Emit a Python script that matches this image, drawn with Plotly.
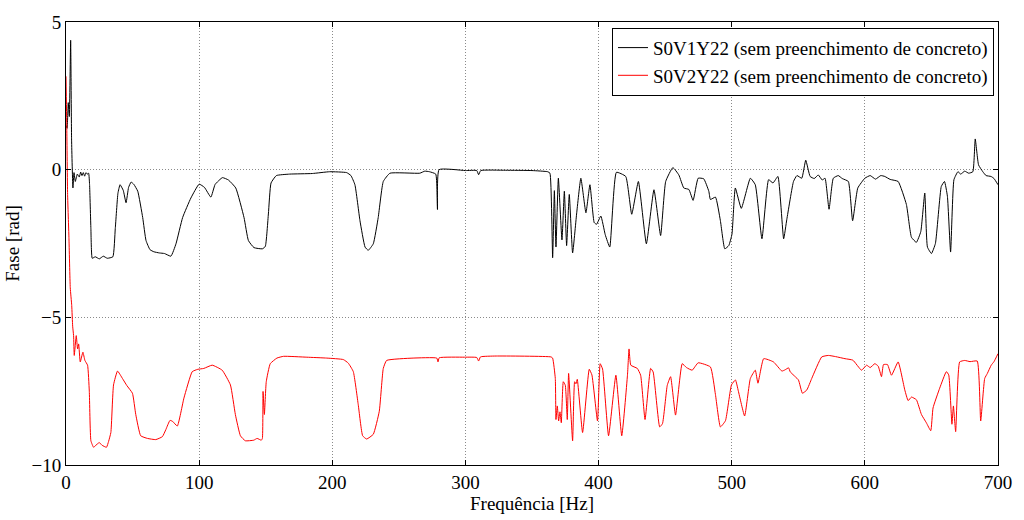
import plotly.graph_objects as go

# S0V1Y22 (black)
black_f = [0, 0.8, 1.7, 2.5, 3.5, 4.2, 5.2, 6, 7, 8.5, 10, 11, 12, 13, 14, 15, 16, 17, 17.7, 18.7, 19.7, 22, 25,
           28, 31, 35.2, 37, 39, 40.6, 43, 45.1, 47, 48.9, 51, 53.9, 57.6, 60.1, 63.1, 66, 70.1, 74, 78.8,
           82.6, 87.6, 93.8, 100, 104, 108.8, 112, 117.5, 122, 127.5, 133.7, 137, 141.2, 147.5, 149.7, 152,
           154, 158, 168, 185, 198, 210.8, 214, 217, 220.8, 224.6, 227, 230.8, 234.5, 238.3, 243.3, 265.7,
           269.5, 273, 277.7, 279, 280.2, 300, 308.5, 309.9, 311.5, 330, 350, 361.8, 363.5, 365.5, 366.8, 368,
           369.8, 372.5, 374.3, 376, 378, 380.5, 383.5, 386.7, 390.5, 393.5, 396.7, 398.5, 401.7, 405, 408.4,
           413.4, 420.4, 424.9, 429.9, 435.9, 441.6, 446.6, 450.4, 455.8, 460.3, 464, 467.8, 471, 474.8, 479,
           482.8, 484, 487.8, 491.5, 494.8, 497.8, 500.2, 502.7, 507.2, 514, 517.7, 522.7, 527.7, 531, 534.7,
           539, 541.4, 546.4, 549, 552.6, 555.6, 558.9, 562, 565, 568, 570.1, 573.1, 576.3, 580, 583, 587.6,
           590.8, 594.7, 600, 604, 608, 612, 615, 619, 625, 631.2, 635, 638.7, 642, 645, 647, 650, 653, 657.4,
           659.8, 662, 664.4, 666.9, 669.9, 672, 675, 678, 681.1, 682.9, 685.4, 688.6, 691, 694.8, 697, 700]
black_v = [1.5, 1.4, 2.27, 1.8, 4.38, 1.0, -0.62, -0.1, -0.4, -0.15, -0.25, -0.08, -0.2, -0.1, -0.22, -0.1,
           -0.15, -0.12, -0.5, -2.0, -3.0, -2.95, -3.02, -2.93, -3.0, -2.95, -2.0, -0.8, -0.51, -0.7, -1.12,
           -0.6, -0.42, -0.5, -0.73, -1.62, -2.4, -2.71, -2.78, -2.82, -2.84, -2.93, -2.51, -1.62, -0.96,
           -0.49, -0.6, -0.93, -0.5, -0.27, -0.35, -0.62, -1.62, -2.4, -2.64, -2.68, -2.6, -1.5, -0.45, -0.2,
           -0.15, -0.13, -0.07, -0.1, -0.2, -0.51, -1.73, -2.62, -2.73, -2.51, -1.62, -0.4, -0.12, -0.12,
           -0.05, -0.07, -0.15, -1.35, 0.0, -0.03, -0.03, -0.17, -0.03, -0.02, -0.03, -0.07, -0.12, -2.98,
           -0.71, -2.62, -0.29, -2.38, -0.73, -2.57, -0.84, -2.82, -1.5, -0.29, -1.46, -0.51, -1.79, -1.85,
           -1.57, -2.2, -2.62, -0.09, -0.23, -1.51, -0.4, -2.51, -0.68, -2.23, -0.4, 0.07, -0.18, -0.62, -0.67,
           -1.04, -0.29, -0.31, -0.73, -1.01, -0.93, -1.73, -2.68, -2.57, -2.18, -0.62, -1.31, -0.29, -0.51,
           -2.34, -0.34, -0.45, -0.23, -2.34, -1.68, -0.4, -0.2, -0.29, 0.32, -0.23, -0.3, -0.18, -0.35,
           -0.29, -1.34, -0.29, -0.2, -0.3, -0.4, -1.73, -0.62, -0.29, -0.2, -0.32, -0.2, -0.23, -0.33, -0.4,
           -1.18, -2.29, -2.46, -2.1, -0.79, -2.62, -2.84, -2.5, -0.57, -0.4, -0.9, -2.79, -0.34, -0.07,
           -0.15, -0.05, -0.12, -0.07, 1.04, 0.16, -0.07, -0.2, -0.23, -0.3, -0.51]

# S0V2Y22 (red)
red_f = [0, 0.6, 1.2, 2.2, 3.2, 4.3, 5, 5.7, 6.2, 7.7, 8.7, 9.5, 10.7, 12.7, 14.2, 16.2, 17.5, 18.7, 20.7, 22,
         25, 27, 30.4, 32, 33.7, 35.7, 38.7, 42.4, 45.7, 49.9, 52.4, 56.1, 61.2, 67.4, 72.4, 75, 78.1, 80, 83.6,
         88.6, 94.8, 99, 103.5, 109.8, 117.3, 123.5, 127.2, 131, 134.7, 141, 143.5, 146.7, 147.5, 148, 149,
         150.4, 153.4, 158.4, 163.4, 180.9, 195.9, 208.3, 212, 215.8, 219.5, 222.8, 225.8, 230.8, 235.3, 238.3,
         240.8, 260.7, 278.5, 279.4, 280.3, 299.4, 308.5, 309.9, 311.3, 323.1, 364.3, 365.5, 367.5, 368, 369,
         370, 371, 372, 373.5, 375, 376.5, 377.5, 380.5, 382, 383, 384, 388, 393, 395, 399.2, 401.2, 403,
         407.5, 413, 417.4, 421.7, 422.9, 424.2, 429.1, 431.6, 434.9, 439.1, 441, 445.9, 448, 451.6, 454.1,
         457.8, 462.8, 466, 470.3, 474.8, 484, 487.8, 491.5, 495.3, 499.8, 502.8, 505, 509.7, 514, 517.7,
         519.7, 524, 531.4, 537.7, 540, 542.7, 544, 550.1, 553.1, 556.4, 560.1, 567.6, 572.6, 578, 585.1,
         591, 597.5, 601.3, 604, 607.5, 610, 612.5, 614, 617, 620, 625, 630, 632.5, 635, 638.7, 642.5, 646.2,
         649.5, 651.2, 656.2, 661.2, 663, 665.4, 666.5, 668.2, 671.2, 675, 679, 684.4, 687, 690, 692, 694.9,
         697, 700]
red_v = [3.16, 1.4, -0.84, -2.29, -4.0, -4.6, -5.3, -5.62, -6.29, -5.62, -6.07, -5.9, -6.51, -6.18, -6.46,
         -6.62, -7.5, -9.18, -9.4, -9.35, -9.24, -9.33, -9.4, -9.2, -8.9, -7.29, -6.82, -7.07, -7.31, -7.57,
         -8.29, -9.01, -9.1, -9.14, -9.04, -8.8, -8.49, -8.52, -8.68, -7.73, -6.84, -6.76, -6.73, -6.62, -6.79,
         -7.29, -8.29, -9.01, -9.18, -9.16, -9.1, -9.16, -9.1, -7.51, -8.29, -7.18, -6.57, -6.38, -6.32, -6.35,
         -6.38, -6.43, -6.55, -6.84, -7.96, -9.01, -9.12, -8.96, -8.18, -6.73, -6.46, -6.38, -6.38, -6.51,
         -6.37, -6.35, -6.36, -6.48, -6.34, -6.31, -6.34, -6.38, -7.07, -8.46, -8.0, -8.51, -8.2, -8.57,
         -7.18, -7.3, -8.46, -6.9, -9.18, -7.18, -7.25, -7.1, -8.9, -6.76, -6.95, -8.51, -6.57, -6.75, -9.01,
         -6.96, -9.01, -6.96, -6.07, -6.62, -6.73, -6.96, -8.46, -6.73, -6.85, -8.71, -8.6, -7.3, -7.01,
         -8.31, -6.57, -6.7, -6.79, -6.54, -6.68, -7.62, -8.71, -8.5, -7.29, -7.12, -7.5, -8.34, -7.07, -6.79,
         -7.23, -6.4, -6.51, -6.82, -6.78, -6.71, -6.85, -7.12, -7.57, -7.46, -7.07, -6.34, -6.29, -6.33,
         -6.4, -6.45, -6.79, -6.62, -6.7, -6.57, -6.65, -7.01, -6.6, -6.6, -6.96, -6.51, -7.46, -7.82, -7.7,
         -7.79, -8.29, -8.57, -8.84, -8.07, -7.4, -6.84, -6.95, -8.62, -8.0, -8.87, -6.51, -6.46, -6.5,
         -6.48, -8.51, -7.07, -6.9, -6.62, -6.5, -6.23]

x_ticks = [0, 100, 200, 300, 400, 500, 600, 700]
y_ticks = [-10, -5, 0, 5]
names = ["S0V1Y22 (sem preenchimento de concreto)", "S0V2Y22 (sem preenchimento de concreto)"]

font = "Liberation Serif, Times New Roman, serif"

fig = go.Figure()
fig.add_trace(go.Scatter(x=black_f, y=black_v, mode="lines", name=names[0],
                         line=dict(color="black", width=1, shape="spline", smoothing=0.4)))
fig.add_trace(go.Scatter(x=red_f, y=red_v, mode="lines", name=names[1],
                         line=dict(color="red", width=1, shape="spline", smoothing=0.4)))

axis_common = dict(showline=True, linecolor="black", linewidth=1, mirror="ticks",
                   ticks="inside", ticklen=5, tickcolor="black",
                   showgrid=True, gridcolor="#8a8a8a", griddash="1px,2px", gridwidth=1,
                   zeroline=False, tickfont=dict(family=font, size=19, color="black"))

fig.update_layout(
    width=1024, height=520,
    margin=dict(l=65, r=23, t=18, b=52),
    paper_bgcolor="white", plot_bgcolor="white",
    font=dict(family=font, size=19, color="black"),
    xaxis=dict(range=[0, 700], tickvals=x_ticks, title=dict(text="Frequência [Hz]", standoff=2,
               font=dict(family=font, size=19, color="black")), **axis_common),
    yaxis=dict(range=[-10, 5], tickvals=y_ticks, title=dict(text="Fase [rad]", standoff=6,
               font=dict(family=font, size=19, color="black")), **axis_common),
    legend=dict(x=0.9957, y=0.987, xanchor="right", yanchor="top", bgcolor="white",
                bordercolor="black", borderwidth=1, font=dict(family=font, size=19, color="black"),
                tracegroupgap=0, itemwidth=30),
    showlegend=True,
)

fig.write_html("out.html")
